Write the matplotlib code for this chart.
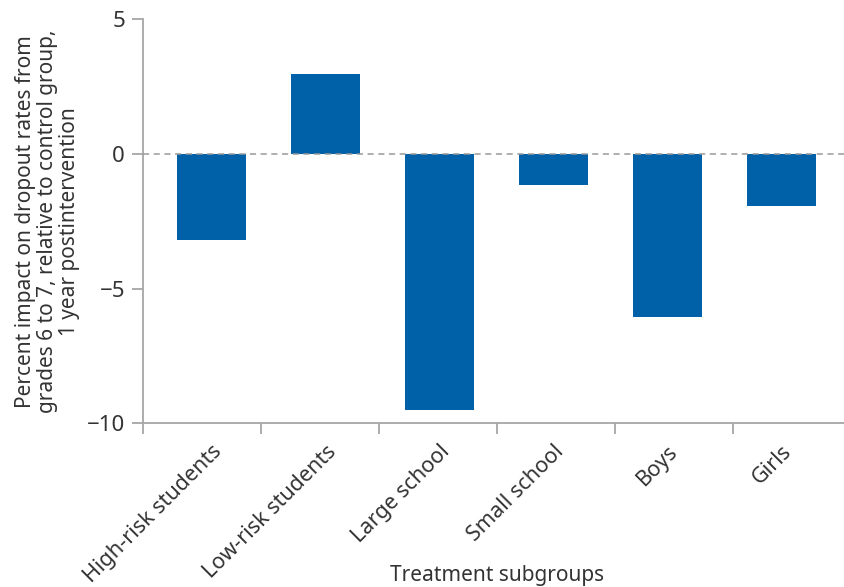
import matplotlib
matplotlib.use("Agg")
import matplotlib.pyplot as plt
import numpy as np

categories = ["High-risk students", "Low-risk students", "Large school",
              "Small school", "Boys", "Girls"]
values = [-3.2, 2.95, -9.5, -1.15, -6.05, -1.95]
yticks = [-10, -5, 0, 5]

plt.rcParams['font.family'] = ['Noto Sans', 'DejaVu Sans']

W, H = 844, 587
fig = plt.figure(figsize=(W / 100, H / 100), dpi=100)
left, right = 143, 851
top, bottom = 19.0, 423.3
ax = fig.add_axes([left / W, (H - bottom) / H, (right - left) / W, (bottom - top) / H])

x = np.arange(len(categories))
ax.bar(x, values, width=0.6, color="#0061A9", zorder=2)
ax.axhline(0, color="#9a9a9a", lw=1.1, ls=(0, (4, 3)), zorder=3)

ax.set_xlim(-0.6, 5.61)
ax.set_ylim(-10, 5)
ax.set_yticks(yticks)
ax.set_yticklabels([f"{v}".replace("-", "\u2212") for v in yticks])

ax.set_xticks(x)
ax.set_xticklabels(categories, rotation=45, ha="right", rotation_mode="anchor",
                   fontsize=15.5, color="#333333")
ax.tick_params(axis="x", length=0, pad=13)
ax.set_xticks(np.linspace(-0.6, 5.61, 7), minor=True)
ax.tick_params(axis="x", which="minor", length=8, width=1.3, color="#a6a6a6", direction="out")
ax.tick_params(axis="y", length=8, width=1.3, color="#a6a6a6", labelsize=16,
               labelcolor="#333333", pad=5)

for s in ["top", "right"]:
    ax.spines[s].set_visible(False)
for s in ["left", "bottom"]:
    ax.spines[s].set_color("#a6a6a6")
    ax.spines[s].set_linewidth(1.3)

ax.set_ylabel("Percent impact on dropout rates from\ngrades 6 to 7, relative to control group,\n1 year postintervention",
              fontsize=15, color="#333333", linespacing=1.05)
ax.yaxis.set_label_coords(-(143 - 80) / (right - left), 0.5)
fig.text(497 / W, 1 - 575 / H, "Treatment subgroups", fontsize=15, color="#333333",
         ha="center", va="center")

fig.savefig("out.png", dpi=100)
